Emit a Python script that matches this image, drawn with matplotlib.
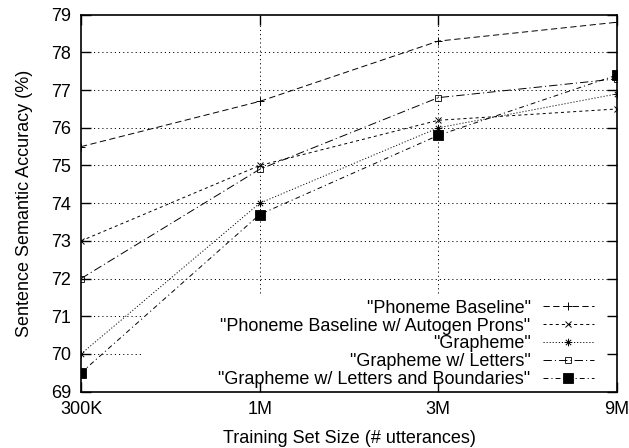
import matplotlib
matplotlib.use("Agg")
import matplotlib.pyplot as plt
from matplotlib.path import Path

plt.rcParams['font.family'] = ['Liberation Sans', 'DejaVu Sans']
plt.rcParams['lines.scale_dashes'] = False

# data
sizes = ["300K", "1M", "3M", "9M"]
phoneme_baseline = [75.5, 76.7, 78.3, 78.8]
phoneme_autogen = [73.0, 75.0, 76.2, 76.5]
grapheme = [70.0, 74.0, 76.0, 76.9]
grapheme_letters = [72.0, 74.9, 76.8, 77.3]
grapheme_boundaries = [69.5, 73.7, 75.8, 77.4]

labels = ['"Phoneme Baseline"',
          '"Phoneme Baseline w/ Autogen Prons"',
          '"Grapheme"',
          '"Grapheme w/ Letters"',
          '"Grapheme w/ Letters and Boundaries"']

# gnuplot style asterisk (plus + cross)
asterisk = Path([(-1, 0), (1, 0), (0, -1), (0, 1),
                 (-0.7, -0.7), (0.7, 0.7), (-0.7, 0.7), (0.7, -0.7)],
                [Path.MOVETO, Path.LINETO] * 4)

fig = plt.figure(figsize=(6.29, 4.48), dpi=100)
ax = fig.add_axes([81/629, 56.3/448, 536/629, 377/448])

x = list(range(len(sizes)))
lw = 0.7
ax.plot(x, phoneme_baseline, color='black', lw=lw, ls=(0, (4.5, 2.5)),
        marker='+', ms=5.5, mew=0.7, label=labels[0], zorder=3)
ax.plot(x, phoneme_autogen, color='black', lw=lw, ls=(0, (2.2, 2.2)),
        marker='x', ms=5, mew=0.7, label=labels[1], zorder=3)
ax.plot(x, grapheme, color='black', lw=lw, ls=(0, (0.8, 1.4)),
        marker=asterisk, ms=5.5, mew=0.7, mfc='none', label=labels[2], zorder=3)
ax.plot(x, grapheme_letters, color='black', lw=lw, ls=(0, (6, 2.2, 0.8, 2.2)),
        marker='s', ms=5, mew=0.6, mfc='none', label=labels[3], zorder=3)
ax.plot(x, grapheme_boundaries, color='black', lw=lw, ls=(0, (3.5, 2.2, 0.8, 2.2)),
        marker='s', ms=6.5, mew=0.6, mfc='black', label=labels[4], zorder=3)

ax.set_xlim(0, 3)
ax.set_ylim(69, 79)
ax.set_xticks(x)
ax.set_xticklabels(sizes)
ax.set_yticks(range(69, 80))

# grid, kept out of the opaque key area
grid_kw = dict(color='black', lw=0.7, ls=(0, (0.8, 2.2)), zorder=1)
for yv in range(70, 79):
    ax.axhline(yv, xmax=0.116 if yv < 72 else 1, **grid_kw)
for xv in x[1:-1]:
    ax.axvline(xv, ymin=0.262, **grid_kw)

ax.tick_params(direction='in', top=True, right=True, length=7, width=1,
               labelsize=13, pad=7)
for s in ax.spines.values():
    s.set_linewidth(1.2)

ax.set_xlabel("Training Set Size (# utterances)", fontsize=13, labelpad=8)
ax.set_ylabel("Sentence Semantic Accuracy (%)", fontsize=13, labelpad=13)

ax.legend(loc='lower right', bbox_to_anchor=(0.97, -0.01), borderaxespad=0,
          markerfirst=False, frameon=False, fontsize=13, handlelength=2.8,
          handletextpad=0.7, labelspacing=0.05)

fig.savefig("out.png", dpi=100)
